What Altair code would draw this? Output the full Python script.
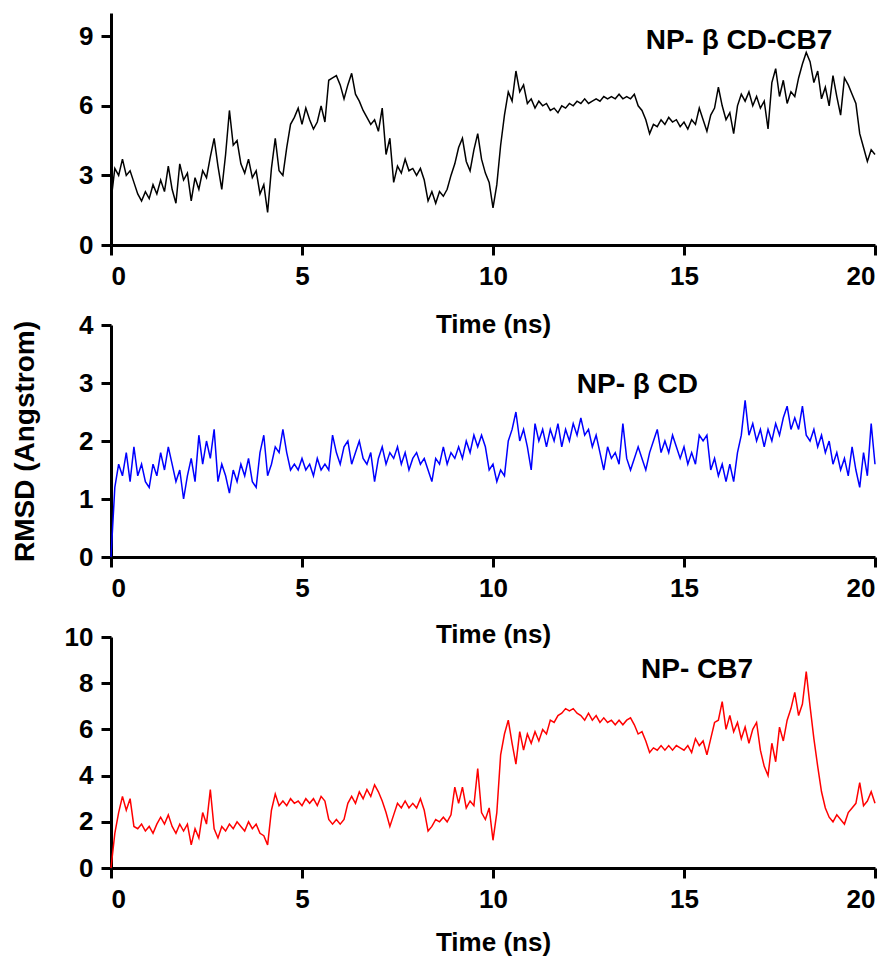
import altair as alt
import pandas as pd

# time grid (ns), 0.1 ns sampling
time_ns = [round(i * 0.1, 1) for i in range(201)]

rmsd_bcd_cb7 = [
    1.9, 3.3, 3.0, 3.7, 3.0, 3.2, 2.7, 2.2, 1.9, 2.3,
    2.0, 2.6, 2.2, 2.8, 2.3, 3.4, 2.4, 1.8, 3.5, 2.8,
    3.1, 1.9, 2.9, 2.4, 3.2, 2.9, 3.8, 4.6, 3.4, 2.4,
    3.9, 5.8, 4.3, 4.5, 3.5, 3.1, 3.7, 2.9, 3.2, 2.2,
    2.6, 1.4, 3.3, 4.6, 3.2, 3.0, 4.2, 5.2, 5.5, 5.9,
    5.2, 5.9, 5.4, 5.0, 5.3, 6.0, 5.3, 7.1, 7.2, 7.3,
    6.9, 6.3, 6.9, 7.4, 6.5, 6.2, 5.8, 5.5, 5.2, 5.4,
    4.9, 5.9, 3.9, 4.6, 2.7, 3.4, 3.1, 3.7, 3.2, 3.3,
    3.0, 3.3, 2.8, 1.9, 2.3, 1.8, 2.3, 2.1, 2.4, 3.0,
    3.5, 4.2, 4.6, 3.6, 3.2, 4.1, 4.8, 3.7, 3.1, 2.7,
    1.6, 2.6, 4.3, 5.6, 6.6, 6.2, 7.5, 6.6, 6.9, 6.1,
    6.3, 5.9, 6.2, 6.0, 6.1, 5.8, 5.9, 5.7, 6.0, 5.9,
    6.1, 6.0, 6.2, 6.1, 6.3, 6.1, 6.2, 6.3, 6.2, 6.4,
    6.3, 6.4, 6.3, 6.5, 6.3, 6.4, 6.3, 6.5, 6.0, 5.8,
    5.4, 4.8, 5.2, 5.1, 5.4, 5.2, 5.5, 5.3, 5.4, 5.1,
    5.3, 5.0, 5.4, 5.2, 5.9, 5.4, 4.9, 5.6, 5.9, 6.8,
    6.0, 5.4, 5.7, 4.8, 6.0, 6.5, 6.2, 6.6, 6.0, 6.4,
    5.9, 6.2, 5.0, 7.0, 7.6, 6.4, 7.1, 6.1, 6.6, 6.4,
    7.2, 7.8, 8.3, 7.9, 7.0, 7.5, 6.3, 6.8, 6.0, 7.3,
    6.4, 5.6, 7.2, 6.9, 6.5, 6.1, 4.8, 4.2, 3.6, 4.1,
    3.9,
]

rmsd_bcd = [
    0.0, 1.2, 1.6, 1.4, 1.8, 1.3, 1.9, 1.4, 1.6, 1.3,
    1.2, 1.6, 1.4, 1.8, 1.5, 1.9, 1.6, 1.3, 1.5, 1.0,
    1.4, 1.7, 1.3, 2.1, 1.6, 2.0, 1.7, 2.2, 1.3, 1.6,
    1.4, 1.1, 1.5, 1.3, 1.6, 1.4, 1.7, 1.3, 1.2, 1.8,
    2.1, 1.4, 1.6, 1.9, 1.8, 2.2, 1.8, 1.5, 1.6, 1.5,
    1.7, 1.5, 1.6, 1.4, 1.7, 1.5, 1.6, 1.5, 2.1, 1.8,
    1.6, 1.9, 2.0, 1.6, 1.8, 2.0, 1.7, 1.6, 1.8, 1.3,
    1.7, 1.9, 1.6, 1.8, 1.7, 1.9, 1.6, 1.8, 1.5, 1.7,
    1.8, 1.6, 1.7, 1.5, 1.3, 1.7, 1.6, 1.9, 1.6, 1.8,
    1.7, 1.9, 1.7, 2.0, 1.8, 2.1, 1.9, 2.1, 1.9, 1.5,
    1.6, 1.3, 1.5, 1.4, 2.0, 2.2, 2.5, 2.0, 2.2, 1.9,
    1.5, 2.3, 2.0, 2.2, 1.9, 2.2, 2.0, 2.3, 1.9, 2.2,
    2.0, 2.3, 2.1, 2.4, 2.1, 2.2, 1.9, 2.1, 1.8, 1.5,
    1.9, 1.7, 1.8, 1.6, 2.3, 1.7, 1.5, 1.7, 1.9, 1.7,
    1.5, 1.8, 2.0, 2.2, 1.8, 2.0, 1.8, 2.1, 1.9, 1.7,
    1.9, 1.6, 1.8, 1.6, 2.1, 2.0, 2.1, 1.5, 1.7, 1.4,
    1.6, 1.3, 1.6, 1.3, 1.8, 2.1, 2.7, 2.1, 2.3, 2.0,
    2.2, 1.9, 2.2, 2.0, 2.3, 2.1, 2.4, 2.6, 2.2, 2.4,
    2.2, 2.6, 2.1, 2.0, 2.2, 1.9, 2.1, 1.8, 2.0, 1.6,
    1.8, 1.5, 1.7, 1.4, 1.9, 1.5, 1.2, 1.8, 1.4, 2.3,
    1.6,
]

rmsd_cb7 = [
    0.0, 1.5, 2.4, 3.1, 2.5, 3.0, 1.8, 1.7, 1.9, 1.6,
    1.8, 1.5, 1.9, 2.2, 1.9, 2.3, 1.8, 1.5, 1.9, 1.6,
    1.9, 1.0, 1.7, 1.3, 2.4, 1.9, 3.4, 1.7, 1.3, 1.8,
    1.6, 1.9, 1.7, 2.0, 1.8, 1.6, 2.0, 1.7, 1.9, 1.5,
    1.4, 1.0, 2.5, 3.2, 2.7, 2.9, 2.7, 3.0, 2.8, 2.9,
    2.7, 3.0, 2.8, 3.0, 2.7, 3.1, 2.9, 2.1, 1.9, 2.1,
    1.9, 2.1, 2.8, 3.1, 2.8, 3.3, 3.0, 3.4, 3.1, 3.6,
    3.3, 2.9, 2.4, 1.8, 2.3, 2.8, 2.6, 2.9, 2.6, 2.8,
    2.6, 3.0, 2.5, 1.6, 1.8, 2.1, 2.0, 2.2, 2.0, 2.3,
    3.5, 2.8, 3.5, 2.6, 2.9, 2.7, 4.3, 2.4, 2.1, 2.6,
    1.2, 2.4, 4.9, 5.8, 6.4, 5.4, 4.5, 5.9, 5.1, 5.8,
    5.4, 5.9, 5.5, 6.0, 5.8, 6.4, 6.3, 6.6, 6.7, 6.9,
    6.8, 6.9, 6.7, 6.6, 6.4, 6.7, 6.4, 6.6, 6.3, 6.5,
    6.3, 6.4, 6.2, 6.4, 6.2, 6.4, 6.5, 6.2, 5.8, 5.9,
    5.5, 5.0, 5.2, 5.1, 5.3, 5.1, 5.3, 5.1, 5.3, 5.2,
    5.1, 5.3, 5.0, 5.6, 5.3, 5.5, 4.9, 5.6, 6.3, 6.4,
    7.2, 6.0, 6.6, 5.9, 6.3, 5.6, 6.1, 5.4, 6.0, 6.3,
    5.1, 4.4, 4.0, 5.4, 4.6, 6.1, 5.5, 6.4, 6.9, 7.6,
    6.6, 7.1, 8.5, 7.0, 5.6, 4.4, 3.3, 2.6, 2.2, 2.0,
    2.3, 2.1, 1.9, 2.4, 2.6, 2.8, 3.7, 2.7, 2.9, 3.3,
    2.8,
]

panel_labels = ["NP- \u03b2 CD-CB7", "NP- \u03b2 CD", "NP- CB7"]
label_t = [16.44, 13.78, 15.34]
label_v = [8.8, 2.97, 8.57]
line_colors = ["#000000", "#0000ff", "#ff0000"]
y_max = [10, 4, 10]
y_ticks = [[0, 3, 6, 9], [0, 1, 2, 3, 4], [0, 2, 4, 6, 8, 10]]
x_ticks = [0, 5, 10, 15, 20]
heights = [232, 232, 231]
x_title_offset = [79, 77, 74]

FONT = "Liberation Sans"


def panel(i, values, ytitle):
    df = pd.DataFrame({"t": time_ns, "v": values})
    x = alt.X(
        "t:Q",
        scale=alt.Scale(domain=[0, 20], nice=False),
        axis=alt.Axis(
            values=x_ticks,
            format="d",
            title="Time (ns)",
            titleY=x_title_offset[i],
            titleBaseline="middle",
            titleFontSize=26,
        ),
    )
    yaxis_kwargs = dict(values=y_ticks[i], format="d", title=ytitle)
    if ytitle:
        yaxis_kwargs.update(
            titleX=-86,
            titleY=heights[i] / 2,
            titleAngle=270,
            titleAlign="center",
            titleBaseline="middle",
            titleFontSize=28,
        )
    y = alt.Y(
        "v:Q",
        scale=alt.Scale(domain=[0, y_max[i]], nice=False),
        axis=alt.Axis(**yaxis_kwargs),
    )
    line = alt.Chart(df).mark_line(color=line_colors[i], strokeWidth=1.5).encode(x=x, y=y)
    lab_df = pd.DataFrame({"t": [label_t[i]], "v": [label_v[i]], "label": [panel_labels[i]]})
    text = alt.Chart(lab_df).mark_text(
        font=FONT, fontSize=28, fontWeight="bold", color="black",
        align="center", baseline="middle",
    ).encode(x="t:Q", y="v:Q", text="label:N")
    return alt.layer(line, text).properties(width=764, height=heights[i])


p1 = panel(0, rmsd_bcd_cb7, "")
p2 = panel(1, rmsd_bcd, "RMSD (Angstrom)")
p3 = panel(2, rmsd_cb7, "")

chart = (
    alt.vconcat(p1, p2, p3, spacing=80, bounds="flush")
    .properties(padding={"left": 11, "top": 13, "right": 10, "bottom": 5}, background="white")
    .configure_view(strokeWidth=0)
    .configure_axis(
        domainColor="black",
        domainWidth=3,
        tickColor="black",
        tickWidth=3,
        tickSize=10,
        grid=False,
        labelFont=FONT,
        labelFontSize=26,
        labelFontWeight="bold",
        labelColor="black",
        labelPadding=8,
        titleFont=FONT,
        titleFontWeight="bold",
        titleColor="black",
    )
)

chart.save("out.html", embed_options={"renderer": "svg", "actions": False})
